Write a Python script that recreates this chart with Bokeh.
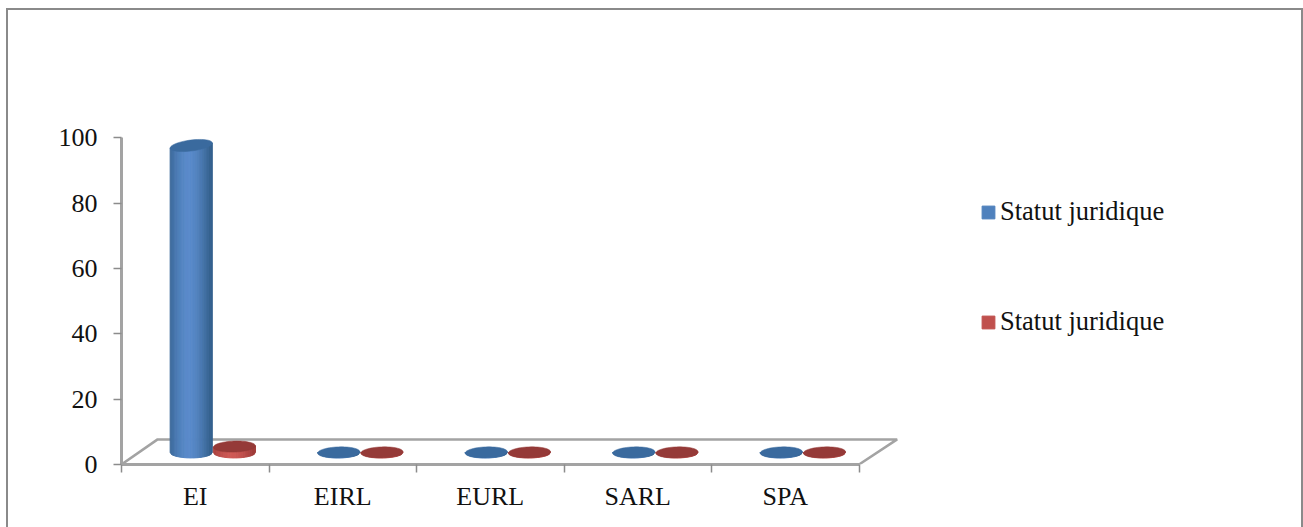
import numpy as np
from bokeh.plotting import figure
from bokeh.embed import file_html
from bokeh.resources import INLINE
from bokeh.models import (Range1d, LinearAxis, FixedTicker, Legend, LegendItem)

categories = ["EI", "EIRL", "EURL", "SARL", "SPA"]
serie_bleue = [94, 0, 0, 0, 0]
serie_rouge = [1.8, 0, 0, 0, 0]
y_ticks = [0, 20, 40, 60, 80, 100]
legend_labels = ["Statut juridique", "Statut juridique"]

UX = 147.0   # px per category
UY = 3.25    # px per y unit
W, H = 1293, 517
L, T, R, B = 113, 20, 11, 65
x_end = (W - L - R) / UX
y_end = (H - T - B) / UY

p = figure(width=W, height=H, output_backend="svg", toolbar_location=None,
           x_range=Range1d(0, x_end), y_range=Range1d(0, y_end),
           x_axis_location=None, y_axis_location=None,
           min_border_left=L, min_border_top=T, min_border_right=R, min_border_bottom=B)
p.grid.visible = False
p.outline_line_color = None
p.background_fill_color = "white"
p.border_fill_color = "white"
p.styles = {"margin": "8px 0 0 6px",
            "border-top": "2px solid #8a8a8a",
            "border-left": "2px solid #8a8a8a",
            "border-right": "2px solid #8a8a8a",
            "box-sizing": "content-box"}

GREY = "#a3a3a3"
FONT = "Liberation Serif"

# floor
dx, dx2, dy = 36 / UX, 38 / UX, 25 / UY
n = len(categories)
p.line([0, dx, n + dx2, n], [0, dy, dy, 0], line_color=GREY, line_width=2.5)

xax = LinearAxis(bounds=(0, n))
xax.ticker = FixedTicker(ticks=[i + .5 for i in range(n)], minor_ticks=list(range(n + 1)))
xax.major_label_overrides = {i + .5: c for i, c in enumerate(categories)}
xax.major_tick_line_color = None
xax.minor_tick_line_color = "#8c8c8c"
xax.minor_tick_line_width = 1.5
xax.minor_tick_out = 8
xax.minor_tick_in = 0
xax.major_tick_out = 0
xax.major_tick_in = 0
xax.axis_line_color = GREY
xax.axis_line_width = 3
xax.major_label_standoff = 9
xax.major_label_text_font = FONT
xax.major_label_text_font_size = "26px"
xax.major_label_text_color = "#111111"
p.add_layout(xax, "below")

yax = LinearAxis(bounds=(0, 100))
yax.ticker = FixedTicker(ticks=y_ticks)
yax.minor_tick_line_color = None
yax.major_tick_line_color = "#8c8c8c"
yax.major_tick_line_width = 1.5
yax.major_tick_out = 8
yax.major_tick_in = 0
yax.axis_line_color = GREY
yax.axis_line_width = 3
yax.major_label_standoff = 16
yax.major_label_text_font = FONT
yax.major_label_text_font_size = "26px"
yax.major_label_text_color = "#111111"
p.add_layout(yax, "left")


def mix(a, b, t):
    ca = [int(a[i:i + 2], 16) for i in (1, 3, 5)]
    cb = [int(b[i:i + 2], 16) for i in (1, 3, 5)]
    return "#%02x%02x%02x" % tuple(round(u + (v - u) * t) for u, v in zip(ca, cb))


RX = 21 / UX
RY = 5.5 / UY
BASE = 3.7
OFF = 17.5 / UX
SEP = 21.5 / UX
N = 30


def cylinder(cx, val, edge, light, cap):
    tilt = (2.5 if val > 10 else 0.7) / UY
    ts = np.linspace(-1, 1, N + 1)
    xs, ys, cols = [], [], []
    for a, b in zip(ts[:-1], ts[1:]):
        ya = np.sqrt(1 - a * a)
        yb = np.sqrt(1 - b * b)
        top_a = BASE + val + tilt * a
        top_b = BASE + val + tilt * b
        bot_a = BASE - RY * ya
        bot_b = BASE - RY * yb
        xs.append([cx + a * RX, cx + b * RX, cx + b * RX, cx + a * RX])
        ys.append([bot_a, bot_b, top_b, top_a])
        m = (a + b) / 2
        cols.append(mix(light, edge, min(1, abs(m + .1) ** 1.6)))
    p.patches(xs, ys, fill_color=cols, line_color=cols, line_width=1)
    t = np.linspace(0, 2 * np.pi, 60)
    p.patch(cx + RX * np.cos(t), BASE + val + RY * np.sin(t) + tilt * np.cos(t),
            fill_color=cap, line_color=cap, line_width=.5)


for i in range(n):
    c = i + .5 + OFF
    cylinder(c - SEP, serie_bleue[i], "#35628f", "#5a8bcb", "#3a6a9e")
    cylinder(c + SEP, serie_rouge[i], "#a03c3a", "#cf5a56", "#953a38")

nan = float("nan")
blue_key = p.quad(left=[nan], right=[nan], top=[nan], bottom=[nan], fill_color="#4f81bd", line_color="#4f81bd")
red_key = p.quad(left=[nan], right=[nan], top=[nan], bottom=[nan], fill_color="#c0504d", line_color="#c0504d")
legend = Legend(items=[LegendItem(label=legend_labels[0], renderers=[blue_key]),
                       LegendItem(label=legend_labels[1], renderers=[red_key])],
                location=(980 - 121, 127), orientation="vertical",
                glyph_width=16, glyph_height=16, padding=0, margin=0, spacing=79,
                label_standoff=4, border_line_color=None, background_fill_alpha=0,
                label_text_font=FONT, label_text_font_size="26.5px", label_text_color="#111111")
p.add_layout(legend, "center")

open("out.html", "w").write(file_html(p, INLINE))
